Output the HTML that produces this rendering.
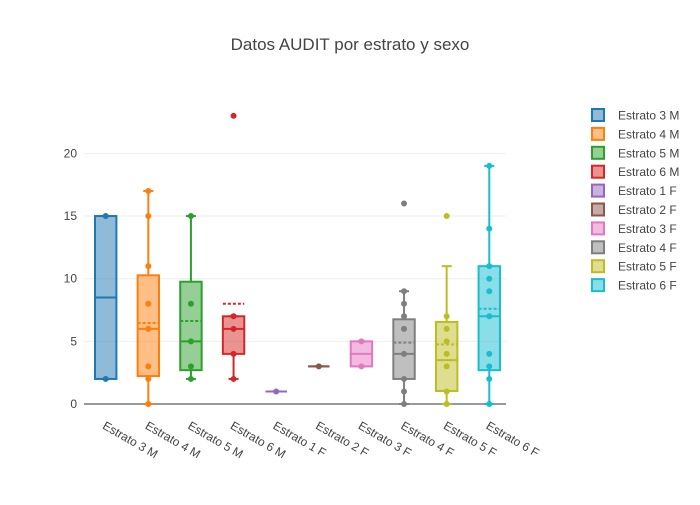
<!DOCTYPE html>
<html><head><meta charset="utf-8"><style>
body{margin:0;background:#fff;}
svg{font-family:"Liberation Sans",sans-serif;}
</style></head><body>
<svg id="s" width="700" height="500" xmlns="http://www.w3.org/2000/svg"></svg>
<script>
const Y=v=>404-12.53*v;
const cols=["#1f77b4","#ff7f0e","#2ca02c","#d62728","#9467bd","#8c564b","#e377c2","#7f7f7f","#bcbd22","#17becf"];
const names=["Estrato 3 M","Estrato 4 M","Estrato 5 M","Estrato 6 M","Estrato 1 F","Estrato 2 F","Estrato 3 F","Estrato 4 F","Estrato 5 F","Estrato 6 F"];
const D=[
{q1:2,q3:15,med:8.5,mean:null,lo:2,hi:15,pts:[2,15]},
{q1:2.23,q3:10.27,med:6,mean:6.46,lo:0,hi:17,pts:[0,2,3,6,8,11,15,17]},
{q1:2.7,q3:9.76,med:5,mean:6.62,lo:2,hi:15,pts:[2,3,5,8,15]},
{q1:4,q3:7,med:6,mean:8,lo:2,hi:7,pts:[2,4,6,7,23]},
{q1:1,q3:1,med:1,mean:null,lo:1,hi:1,pts:[1]},
{q1:3,q3:3,med:3,mean:null,lo:3,hi:3,pts:[3]},
{q1:3,q3:5,med:4,mean:null,lo:3,hi:5,pts:[3,5]},
{q1:2,q3:6.76,med:4,mean:4.9,lo:0,hi:9,pts:[0,1,2,4,6,7,8,9,16]},
{q1:1.04,q3:6.55,med:3.5,mean:4.76,lo:0,hi:11,pts:[0,1,3,4,5,6,7,15]},
{q1:2.7,q3:11,med:7,mean:7.6,lo:0,hi:19,pts:[0,2,3,4,7,9,10,11,14,19]}];
let h='';
h+='<text x="350" y="50" text-anchor="middle" font-size="17" fill="#444">Datos AUDIT por estrato y sexo</text>';
for(const v of [0,5,10,15,20]){
 if(v>0)h+=`<line x1="84" x2="506" y1="${Y(v)}" y2="${Y(v)}" stroke="#eee" stroke-width="1"/>`;
 h+=`<text x="77" y="${Y(v)+4}" text-anchor="end" font-size="12" fill="#444">${v}</text>`;
}
h+=`<line x1="84" x2="506" y1="404" y2="404" stroke="#999" stroke-width="2"/>`;
D.forEach((d,i)=>{
 const c=cols[i],x=105.7+42.62*i,w=10.7;
 h+=`<line x1="${x}" x2="${x}" y1="${Y(d.hi)}" y2="${Y(d.q3)}" stroke="${c}" stroke-width="2"/>`;
 h+=`<line x1="${x}" x2="${x}" y1="${Y(d.q1)}" y2="${Y(d.lo)}" stroke="${c}" stroke-width="2"/>`;
 h+=`<line x1="${x-5}" x2="${x+5}" y1="${Y(d.hi)}" y2="${Y(d.hi)}" stroke="${c}" stroke-width="2"/>`;
 h+=`<line x1="${x-5}" x2="${x+5}" y1="${Y(d.lo)}" y2="${Y(d.lo)}" stroke="${c}" stroke-width="2"/>`;
 if(d.q3>d.q1){
  h+=`<rect x="${x-w}" y="${Y(d.q3)}" width="${2*w}" height="${Y(d.q1)-Y(d.q3)}" fill="${c}" fill-opacity="0.5" stroke="${c}" stroke-width="2"/>`;
 } else {
  h+=`<line x1="${x-w}" x2="${x+w}" y1="${Y(d.med)}" y2="${Y(d.med)}" stroke="${c}" stroke-width="2"/>`;
 }
 h+=`<line x1="${x-w}" x2="${x+w}" y1="${Y(d.med)}" y2="${Y(d.med)}" stroke="${c}" stroke-width="2"/>`;
 if(d.mean!=null)h+=`<line x1="${x-w}" x2="${x+w}" y1="${Y(d.mean)}" y2="${Y(d.mean)}" stroke="${c}" stroke-width="2" stroke-dasharray="3,2"/>`;
 d.pts.forEach(p=>{h+=`<circle cx="${x}" cy="${Y(p)}" r="3" fill="${c}"/>`;});
 h+=`<text transform="translate(${x-4},428) rotate(30)" font-size="12" fill="#444">${names[i]}</text>`;
 const ly=115+18.9*i;
 h+=`<rect x="592" y="${ly-6}" width="12" height="12" fill="${c}" fill-opacity="0.5" stroke="${c}" stroke-width="2"/>`;
 h+=`<text x="618" y="${ly+4.5}" font-size="12" fill="#444">${names[i]}</text>`;
});
document.getElementById('s').innerHTML=h;
</script>
</body></html>
